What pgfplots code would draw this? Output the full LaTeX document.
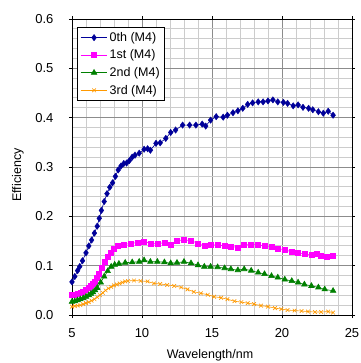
\documentclass[border=0pt]{standalone}
\usepackage{pgfplots}
\pgfplotsset{compat=1.18}
\usetikzlibrary{calc}
\usepackage{fontspec}
\setmainfont{Liberation Sans}
\definecolor{c0}{RGB}{0,0,153}
\definecolor{c1}{RGB}{255,0,255}
\definecolor{c2}{RGB}{0,128,0}
\definecolor{c3}{RGB}{255,153,0}
\begin{document}
\begin{tikzpicture}
\begin{axis}[
  scale only axis,
  width=280bp, height=296bp,
  xmin=5, xmax=25, ymin=0, ymax=0.6,
  xtick={5,10,15,20,25},
  ytick={0,0.1,0.2,0.3,0.4,0.5,0.6},
  minor x tick num=4, minor y tick num=4,
  grid=both,
  major grid style={draw=black!45, line width=0.8bp},
  minor grid style={draw=black!20, line width=0.9bp},
  tick align=outside,
  major tick length=3bp, minor tick length=0pt,
  tick style={black, line width=0.6bp},
  axis line style={black, line width=0.9bp},
  /pgf/number format/assume math mode=true,
  yticklabel style={/pgf/number format/fixed, /pgf/number format/fixed zerofill, /pgf/number format/precision=1, font=\fontsize{13bp}{15bp}\selectfont, xshift=-12bp},
  xticklabel style={font=\fontsize{13bp}{15bp}\selectfont, yshift=-7bp},
  scaled y ticks=false,
  xlabel={Wavelength/nm},
  ylabel={Efficiency},
  label style={font=\fontsize{12.5bp}{15bp}\selectfont},
  xlabel style={at={(axis description cs:0.493,-0.135)}, anchor=center},
  ylabel style={at={(axis description cs:-0.193,0.473)}, anchor=center, rotate=0},
  legend style={at={(axis description cs:0.018,0.973)}, anchor=north west, draw=black, line width=0.8bp, fill=white, font=\fontsize{12.5bp}{14bp}\selectfont, row sep=3bp, inner xsep=3bp, inner ysep=3bp},
  legend cell align=left,
  legend image code/.code={\draw[mark repeat=2,mark phase=2] plot coordinates {(0cm,0cm) (0.47cm,0cm) (0.94cm,0cm)};},
  clip=false,
]
\addplot[c0, line width=0.6bp, mark=diamond*, mark size=3.2bp, mark options={solid, line width=0.4bp}] coordinates {
(5.0,0.067)(5.2,0.078)(5.4,0.090)(5.55,0.098)(5.75,0.110)(6.0,0.126)(6.2,0.140)(6.4,0.152)(6.6,0.166)(6.8,0.180)(6.95,0.196)(7.1,0.212)(7.3,0.230)(7.5,0.246)(7.7,0.259)(7.9,0.268)(8.1,0.281)(8.3,0.294)(8.5,0.302)(8.7,0.307)(8.9,0.308)(9.1,0.313)(9.3,0.320)(9.5,0.324)(9.8,0.328)(10.15,0.336)(10.4,0.337)(10.6,0.334)(11.0,0.348)(11.3,0.349)(11.7,0.358)(12.05,0.370)(12.4,0.375)(12.9,0.385)(13.4,0.385)(13.85,0.385)(14.3,0.387)(14.55,0.383)(14.9,0.395)(15.3,0.402)(15.8,0.401)(16.1,0.405)(16.5,0.410)(16.85,0.414)(17.2,0.419)(17.55,0.427)(17.9,0.430)(18.3,0.432)(18.65,0.432)(19.0,0.434)(19.35,0.436)(19.7,0.432)(20.1,0.431)(20.4,0.429)(20.8,0.424)(21.15,0.426)(21.5,0.421)(21.9,0.419)(22.2,0.416)(22.6,0.412)(22.95,0.409)(23.3,0.413)(23.65,0.405)
};
\addlegendentry{0th (M4)}
\addplot[c1, line width=0.6bp, mark=square*, mark size=2.5bp, mark options={solid}] coordinates {
(5.0,0.040)(5.2,0.041)(5.4,0.043)(5.6,0.045)(5.8,0.048)(6.0,0.051)(6.2,0.055)(6.35,0.059)(6.5,0.063)(6.65,0.068)(6.8,0.075)(6.95,0.084)(7.15,0.095)(7.35,0.107)(7.55,0.118)(7.75,0.127)(8.0,0.134)(8.3,0.140)(8.7,0.143)(9.2,0.145)(9.67,0.147)(10.15,0.149)(10.6,0.145)(11.1,0.144)(11.6,0.147)(12.05,0.142)(12.5,0.151)(13.0,0.152)(13.5,0.151)(14.0,0.145)(14.45,0.140)(14.9,0.142)(15.4,0.142)(15.9,0.140)(16.35,0.139)(16.85,0.137)(17.3,0.142)(17.8,0.143)(18.3,0.142)(18.75,0.140)(19.25,0.139)(19.7,0.135)(20.2,0.132)(20.7,0.128)(21.15,0.126)(21.6,0.124)(22.1,0.122)(22.45,0.125)(22.8,0.120)(23.2,0.118)(23.65,0.120)
};
\addlegendentry{1st (M4)}
\addplot[c2, line width=0.6bp, mark=triangle*, mark size=3.2bp, mark options={solid}] coordinates {
(5.0,0.027)(5.2,0.028)(5.4,0.030)(5.6,0.032)(5.8,0.034)(6.0,0.037)(6.2,0.040)(6.35,0.043)(6.5,0.046)(6.65,0.050)(6.8,0.055)(7.05,0.066)(7.3,0.078)(7.55,0.089)(7.8,0.098)(8.05,0.102)(8.35,0.104)(8.8,0.106)(9.3,0.107)(9.8,0.108)(10.15,0.111)(10.6,0.108)(11.1,0.108)(11.6,0.107)(12.05,0.105)(12.5,0.106)(13.0,0.108)(13.5,0.105)(14.0,0.101)(14.45,0.098)(14.9,0.098)(15.4,0.097)(15.9,0.095)(16.35,0.093)(16.85,0.091)(17.3,0.093)(17.8,0.090)(18.3,0.086)(18.75,0.083)(19.25,0.079)(19.7,0.076)(20.2,0.072)(20.7,0.069)(21.15,0.066)(21.6,0.062)(22.1,0.059)(22.6,0.056)(23.05,0.052)(23.65,0.049)
};
\addlegendentry{2nd (M4)}
\addplot[c3, line width=0.6bp, mark=x, mark size=2.6bp, mark options={solid, line width=0.6bp}] coordinates {
(5.0,0.017)(5.2,0.018)(5.4,0.019)(5.6,0.020)(5.8,0.022)(6.0,0.024)(6.2,0.026)(6.4,0.029)(6.6,0.032)(6.8,0.036)(7.0,0.040)(7.2,0.045)(7.4,0.050)(7.6,0.054)(7.8,0.057)(8.0,0.060)(8.2,0.062)(8.4,0.064)(8.6,0.066)(8.8,0.068)(9.0,0.069)(9.43,0.070)(9.9,0.069)(10.4,0.068)(10.85,0.064)(11.3,0.063)(11.8,0.061)(12.3,0.059)(12.8,0.056)(13.25,0.052)(13.7,0.047)(14.2,0.044)(14.7,0.041)(15.15,0.037)(15.65,0.035)(16.1,0.032)(16.6,0.028)(17.1,0.026)(17.55,0.024)(18.0,0.022)(18.5,0.019)(19.0,0.017)(19.5,0.014)(19.95,0.012)(20.4,0.010)(20.9,0.009)(21.4,0.008)(21.85,0.007)(22.35,0.006)(22.8,0.006)(23.3,0.007)(23.65,0.005)
};
\addlegendentry{3rd (M4)}
\coordinate (SW) at (rel axis cs:0,0);
\end{axis}
\pgfresetboundingbox
\path[use as bounding box] ($(SW)+(-72bp,-48bp)$) rectangle ($(SW)+(289bp,315bp)$);
\end{tikzpicture}
\end{document}
